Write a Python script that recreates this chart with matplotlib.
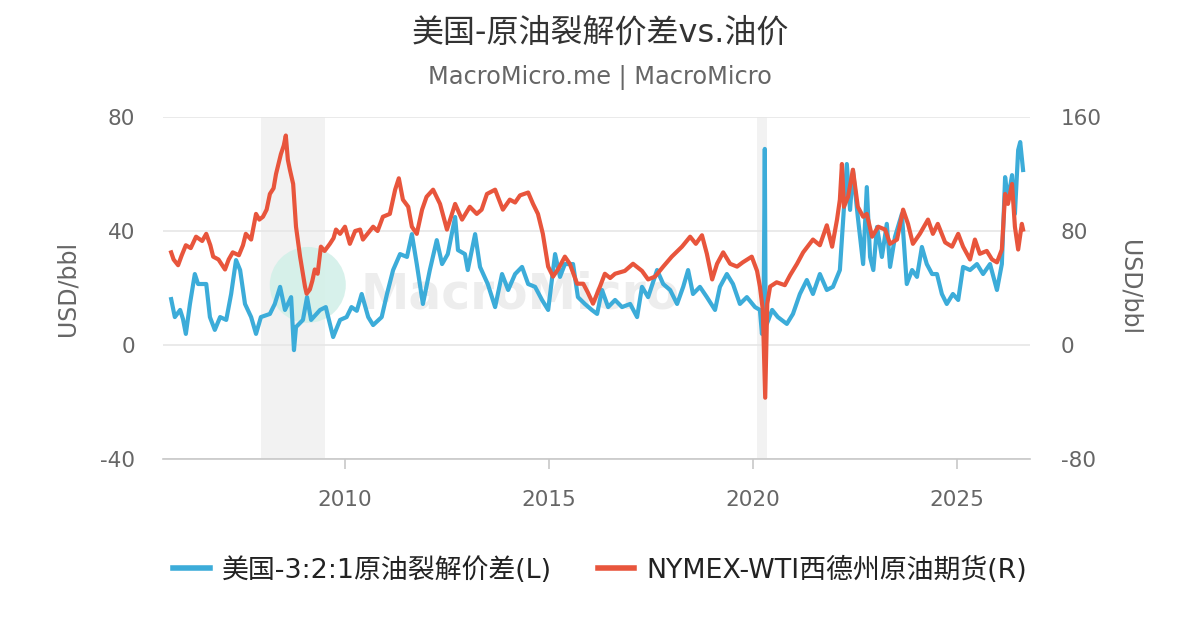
import matplotlib
matplotlib.use("Agg")
import matplotlib.pyplot as plt
from matplotlib.patches import Ellipse
from matplotlib.lines import Line2D

# ---------------- data (decimal years) ----------------
crack_dates = [2005.74, 2005.83, 2005.96, 2006.03, 2006.10, 2006.20, 2006.32, 2006.40, 2006.60, 2006.69,
               2006.81, 2006.94, 2007.09, 2007.21, 2007.33, 2007.43, 2007.55, 2007.70, 2007.82, 2007.94,
               2008.16, 2008.28, 2008.41, 2008.53, 2008.68, 2008.75, 2008.80, 2008.97, 2009.07, 2009.17,
               2009.39, 2009.53, 2009.71, 2009.88, 2010.04, 2010.16, 2010.29, 2010.41, 2010.57, 2010.69,
               2010.90, 2011.03, 2011.18, 2011.35, 2011.52, 2011.64, 2011.76, 2011.91, 2012.08, 2012.25,
               2012.38, 2012.52, 2012.70, 2012.77, 2012.94, 2013.01, 2013.19, 2013.31, 2013.50, 2013.68,
               2013.85, 2014.00, 2014.17, 2014.34, 2014.49, 2014.66, 2014.83, 2014.98, 2015.15, 2015.27,
               2015.39, 2015.59, 2015.71, 2015.88, 2016.05, 2016.18, 2016.30, 2016.45, 2016.62, 2016.79,
               2016.99, 2017.16, 2017.28, 2017.43, 2017.65, 2017.80, 2017.97, 2018.14, 2018.29, 2018.41,
               2018.53, 2018.70, 2018.87, 2019.07, 2019.19, 2019.36, 2019.51, 2019.68, 2019.85, 2020.05,
               2020.17, 2020.22, 2020.26, 2020.29, 2020.31, 2020.34, 2020.47, 2020.61, 2020.83, 2020.98,
               2021.15, 2021.32, 2021.47, 2021.64, 2021.81, 2021.96, 2022.13, 2022.20, 2022.30, 2022.38,
               2022.45, 2022.57, 2022.70, 2022.79, 2022.87, 2022.95, 2023.04, 2023.16, 2023.28, 2023.36,
               2023.48, 2023.65, 2023.77, 2023.90, 2024.02, 2024.14, 2024.26, 2024.39, 2024.51, 2024.63,
               2024.75, 2024.90, 2025.03, 2025.15, 2025.32, 2025.49, 2025.64, 2025.81, 2025.98, 2026.10,
               2026.18, 2026.25, 2026.35, 2026.42, 2026.50, 2026.55, 2026.62]
crack_values = [16.1, 9.8, 12.3, 9.1, 3.9, 14.4, 24.9, 21.4, 21.4, 9.8,
                5.3, 9.8, 8.8, 17.9, 29.8, 26.3, 14.4, 9.8, 3.9, 9.8,
                10.9, 14.4, 20.4, 12.3, 16.8, -1.8, 6.3, 8.8, 16.8, 8.8,
                12.3, 13.3, 2.8, 8.8, 9.8, 13.3, 12.0, 17.9, 9.8, 7.0,
                9.8, 17.9, 26.3, 31.9, 30.9, 38.9, 28.4, 14.4, 26.3, 36.8,
                28.4, 31.9, 44.9, 33.3, 31.9, 26.3, 38.9, 27.4, 21.4, 13.3,
                24.9, 19.3, 24.9, 27.4, 21.4, 20.4, 15.8, 12.3, 31.9, 23.9,
                28.4, 28.4, 16.8, 14.4, 12.3, 10.9, 19.3, 13.3, 15.8, 13.3,
                14.4, 9.8, 20.4, 16.8, 26.3, 21.4, 19.3, 14.4, 20.4, 26.3,
                17.9, 20.4, 16.8, 12.3, 20.4, 24.9, 21.4, 14.4, 16.8, 13.3,
                12.3, 3.9, 10.0, 68.8, 10.0, 7.4, 12.3, 9.8, 7.4, 10.9,
                17.9, 22.8, 17.9, 24.9, 19.3, 20.4, 26.3, 41.4, 63.5, 47.4,
                61.4, 44.9, 28.4, 55.4, 30.9, 26.3, 41.4, 30.9, 42.5, 27.4,
                37.9, 46.0, 21.4, 26.3, 23.9, 34.4, 28.4, 24.9, 24.9, 17.9,
                14.4, 17.9, 15.8, 27.4, 26.3, 28.4, 24.9, 28.4, 19.3, 28.4,
                58.9, 50.9, 59.6, 46.0, 68.4, 71.2, 61.4]

wti_dates = [2005.74, 2005.80, 2005.91, 2006.00, 2006.10, 2006.22, 2006.35, 2006.50, 2006.60, 2006.70,
             2006.77, 2006.90, 2007.06, 2007.15, 2007.25, 2007.40, 2007.50, 2007.57, 2007.70, 2007.82,
             2007.90, 2007.99, 2008.08, 2008.16, 2008.25, 2008.31, 2008.43, 2008.50, 2008.55, 2008.60,
             2008.65, 2008.73, 2008.80, 2008.90, 2009.02, 2009.06, 2009.14, 2009.20, 2009.26, 2009.33,
             2009.41, 2009.50, 2009.63, 2009.72, 2009.78, 2009.88, 2010.00, 2010.12, 2010.25, 2010.37,
             2010.44, 2010.55, 2010.69, 2010.80, 2010.93, 2011.10, 2011.23, 2011.32, 2011.42, 2011.55,
             2011.64, 2011.76, 2011.89, 2012.00, 2012.16, 2012.33, 2012.50, 2012.60, 2012.70, 2012.87,
             2013.06, 2013.23, 2013.35, 2013.48, 2013.68, 2013.87, 2014.04, 2014.17, 2014.29, 2014.49,
             2014.61, 2014.73, 2014.85, 2014.98, 2015.10, 2015.22, 2015.39, 2015.51, 2015.69, 2015.84,
             2015.95, 2016.08, 2016.25, 2016.37, 2016.50, 2016.62, 2016.86, 2017.06, 2017.28, 2017.43,
             2017.60, 2017.80, 2018.01, 2018.26, 2018.46, 2018.60, 2018.75, 2018.87, 2019.00, 2019.12,
             2019.27, 2019.44, 2019.61, 2019.75, 2019.97, 2020.10, 2020.17, 2020.24, 2020.30, 2020.35,
             2020.42, 2020.58, 2020.78, 2020.91, 2021.08, 2021.23, 2021.47, 2021.64, 2021.81, 2021.94,
             2022.06, 2022.13, 2022.18, 2022.23, 2022.33, 2022.45, 2022.57, 2022.70, 2022.79, 2022.92,
             2023.07, 2023.24, 2023.36, 2023.53, 2023.68, 2023.80, 2023.92, 2024.09, 2024.29, 2024.41,
             2024.53, 2024.71, 2024.88, 2025.03, 2025.15, 2025.32, 2025.44, 2025.56, 2025.73, 2025.86,
             2025.98, 2026.10, 2026.18, 2026.25, 2026.35, 2026.42, 2026.50, 2026.59, 2026.62]
wti_values = [65, 60, 56, 63, 70, 68, 76, 73, 78, 70,
              62, 60, 53, 60, 65, 63, 70, 78, 74, 92,
              88, 90, 95, 106, 110, 120, 134, 140, 147, 130,
              123, 113, 83, 62, 41, 36, 39, 45, 53, 50,
              69, 66, 71, 75, 81, 78, 83, 71, 80, 81,
              74, 78, 83, 80, 90, 92, 109, 117, 102, 97,
              83, 78, 95, 104, 109, 99, 81, 90, 99, 88,
              97, 92, 95, 106, 109, 95, 102, 100, 105, 107,
              99, 92, 78, 55, 48, 53, 62, 57, 43, 43,
              37, 29, 41, 50, 47, 50, 52, 57, 52, 46,
              48, 55, 62, 69, 76, 71, 77, 64, 46, 57,
              65, 57, 55, 58, 62, 52, 41, 25, -37, 29,
              41, 44, 42, 49, 57, 65, 74, 70, 84, 69,
              88, 102, 127, 97, 104, 123, 97, 90, 92, 76,
              83, 81, 71, 74, 95, 85, 71, 78, 88, 78,
              85, 72, 69, 78, 69, 60, 74, 64, 66, 60,
              58, 67, 106, 99, 113, 83, 67, 85, 81]

recession_starts = [2007.94, 2020.10]
recession_ends = [2009.51, 2020.34]

x_ticks = [2010, 2015, 2020, 2025]
left_ticks = [-40, 0, 40, 80]
right_ticks = [-80, 0, 80, 160]

title = "美国-原油裂解价差vs.油价"
subtitle = "MacroMicro.me | MacroMicro"
series_names = ["美国-3:2:1原油裂解价差(L)", "NYMEX-WTI西德州原油期货(R)"]

BLUE = "#3cacd9"
RED = "#e8553c"
TICK_C = "#666666"
FAM = ["DejaVu Sans", "Noto Sans CJK SC"]
plt.rcParams["font.family"] = FAM
plt.rcParams["axes.unicode_minus"] = False

fig = plt.figure(figsize=(12, 6.3), dpi=100)
ax = fig.add_axes([163 / 1200, 1 - 459 / 630, 867 / 1200, 342 / 630])
ax2 = ax.twinx()

ax.set_xlim(2005.54, 2026.79)
ax.set_ylim(-40, 80)
ax2.set_ylim(-80, 160)

for s, e in zip(recession_starts, recession_ends):
    ax.axvspan(s, e, color="#f2f2f2", zorder=0, lw=0)

ax.set_yticks(left_ticks)
ax2.set_yticks(right_ticks)
ax.set_xticks(x_ticks)
ax.grid(axis="y", color="#e6e6e6", lw=1.2, zorder=0.5)
ax.set_axisbelow(True)

# watermark
ax.add_patch(Ellipse((0.167, 0.509), 0.0877, 0.222, transform=ax.transAxes,
                     color="#d3f0e9", alpha=0.9, zorder=0.6, lw=0))
ax.text(0.228, 0.48, "MacroMicro", transform=ax.transAxes, fontsize=35,
        fontweight="bold", color="#ededed", va="center", ha="left", zorder=0.6)

ax.plot(crack_dates, crack_values, color=BLUE, lw=3, zorder=2, solid_joinstyle="round")
ax2.plot(wti_dates, wti_values, color=RED, lw=3, zorder=2, solid_joinstyle="round")

for a in (ax, ax2):
    for sp in ("top", "left", "right", "bottom"):
        a.spines[sp].set_visible(False)
ax.spines["bottom"].set_visible(True)
ax.spines["bottom"].set_color("#c8c8c8")
ax.spines["bottom"].set_linewidth(1.2)

ax.tick_params(axis="x", length=7, width=1.2, color="#c8c8c8", pad=15,
               labelsize=15.5, labelcolor=TICK_C)
ax.tick_params(axis="y", length=0, pad=20, labelsize=15.5, labelcolor=TICK_C)
ax2.tick_params(axis="y", length=0, pad=22, labelsize=15.5, labelcolor=TICK_C)

ax.set_ylabel("USD/bbl", fontsize=17, color=TICK_C)
ax.yaxis.set_label_coords(-0.096, 0.5)
ax2.set_ylabel("USD/bbl", fontsize=17, color=TICK_C, rotation=270, va="center")
ax2.yaxis.set_label_coords(1.115, 0.5)

fig.text(0.5, 1 - 33 / 630, title, ha="center", va="center", fontsize=23, color="#333333")
fig.text(0.5, 1 - 78 / 630, subtitle, ha="center", va="center", fontsize=17.3, color=TICK_C)

handles = [Line2D([], [], color=BLUE, lw=4), Line2D([], [], color=RED, lw=4)]
fig.legend(handles, series_names, loc="center", bbox_to_anchor=(0.5, 1 - 570 / 630),
           ncol=2, frameon=False, fontsize=19.4, handlelength=1.35, columnspacing=1.7,
           handletextpad=0.45, labelcolor="#222222")

fig.savefig("out.png", dpi=100)
